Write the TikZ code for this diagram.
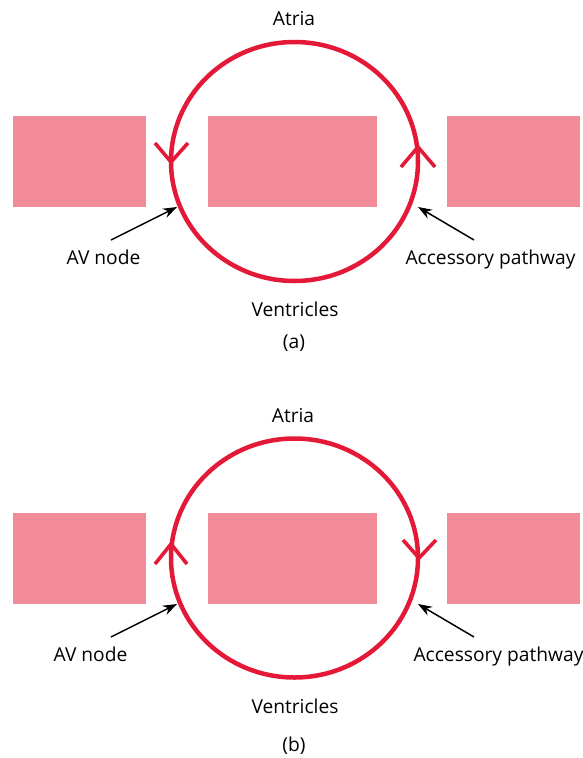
\documentclass[tikz,border=0pt]{standalone}
\usepackage{fontspec}
\setmainfont{Open Sans}
\usetikzlibrary{arrows.meta}
\definecolor{ringred}{RGB}{227,25,55}
\definecolor{boxpink}{RGB}{242,139,152}
\tikzset{
  ring/.style={draw=ringred,line width=4.5pt},
  tissue/.style={fill=boxpink,draw=none},
  vmark/.style={draw=ringred,line width=3.6pt},
  pointer/.style={draw=black,line width=1.5pt,-{Stealth[length=14pt,width=10pt]}},
  lbl/.style={font=\fontsize{19.2}{21}\selectfont,anchor=base,inner sep=0pt},
}
\begin{document}
\begin{tikzpicture}[x=1pt,y=-1pt]
\useasboundingbox (0,0) rectangle (583,758);
% ---------- panel (a)
\fill[tissue] (13,116) rectangle (146,207);
\fill[tissue] (208,116) rectangle (377,207);
\fill[tissue] (447,116) rectangle (580,207);
\draw[ring] (294.5,161.5) ellipse [x radius=123.5,y radius=119.5];
\draw[vmark] (155,143) -- (171,162) -- (188,143);
\draw[vmark] (401,167) -- (418,147) -- (435,167);
\node[lbl] (atriaA) at (294,25) {Atria};
\node[lbl] (ventA) at (295,316) {Ventricles};
\node[lbl,anchor=center] (capA) at (294,343) {(a)};
\node[lbl] (avA) at (103.5,264) {AV node};
\node[lbl] (apA) at (490.5,264) {Accessory pathway};
\coordinate (avAtail) at (111,240);
\coordinate (avAtip) at (177,207);
\coordinate (apAtail) at (474,240);
\coordinate (apAtip) at (418,207);
\draw[pointer] (avAtail) -- (avAtip);
\draw[pointer] (apAtail) -- (apAtip);
% ---------- panel (b)
\fill[tissue] (13,513) rectangle (146,604);
\fill[tissue] (208,513) rectangle (377,604);
\fill[tissue] (447,513) rectangle (580,604);
\draw[ring] (294.5,558) ellipse [x radius=123.5,y radius=119.5];
\draw[vmark] (155,564) -- (171,544) -- (187,564);
\draw[vmark] (403,540) -- (419,558) -- (436,540);
\node[lbl] (atriaB) at (293,422) {Atria};
\node[lbl] (ventB) at (295,713) {Ventricles};
\node[lbl,anchor=center] (capB) at (294,746) {(b)};
\node[lbl] (avB) at (90.5,661) {AV node};
\node[lbl] (apB) at (498.5,661) {Accessory pathway};
\coordinate (avBtail) at (111,637);
\coordinate (avBtip) at (177,604);
\coordinate (apBtail) at (474,637);
\coordinate (apBtip) at (418,604);
\draw[pointer] (avBtail) -- (avBtip);
\draw[pointer] (apBtail) -- (apBtip);
\end{tikzpicture}
\end{document}
